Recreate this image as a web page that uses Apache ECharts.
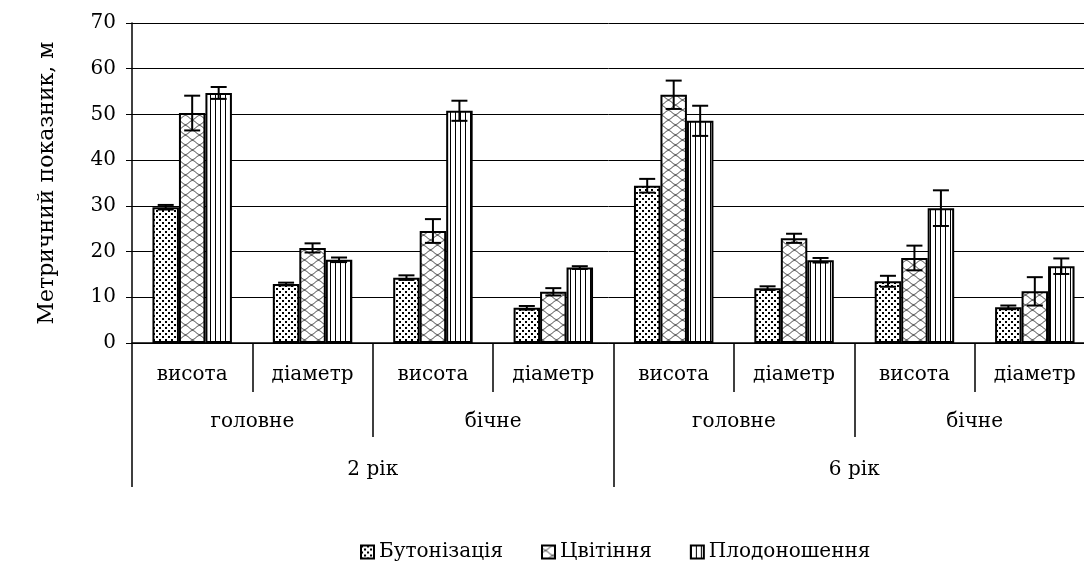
<!DOCTYPE html>
<html>
<head>
<meta charset="utf-8">
<script src="https://cdn.jsdelivr.net/npm/echarts@6/dist/echarts.min.js"></script>
<style>
    html, body { margin: 0; padding: 0; background: #fff; }
    #chart0 { width: 1084px; height: 571px; }
</style>
</head>
<body>
<div id="chart0"></div>
<script>
// categories (three levels)
var parts = ['висота', 'діаметр', 'висота', 'діаметр', 'висота', 'діаметр', 'висота', 'діаметр'];
var organs = ['головне', 'бічне', 'головне', 'бічне'];
var years = ['2 рік', '6 рік'];
var seriesNames = ['Бутонізація', 'Цвітіння', 'Плодоношення'];

// values and errors
var budding = [29.7, 12.9, 14.3, 7.7, 34.4, 12.0, 13.5, 7.8];
var buddingErr = [0.5, 0.3, 0.5, 0.4, 1.5, 0.4, 1.2, 0.4];
var flowering = [50.3, 20.8, 24.5, 11.2, 54.3, 22.9, 18.6, 11.3];
var floweringErr = [3.8, 1.0, 2.6, 0.8, 3.1, 1.0, 2.7, 3.1];
var fruiting = [54.7, 18.2, 50.8, 16.5, 48.6, 18.1, 29.5, 16.8];
var fruitingErr = [1.3, 0.5, 2.2, 0.3, 3.3, 0.5, 3.9, 1.7];

var yMin = 0, yMax = 70, yStep = 10;

var FONT = 'DejaVu Serif';
var GAP = 0.34;

// fill patterns
function makePattern(kind) {
    var c = document.createElement('canvas');
    var ctx;
    if (kind === 'dots') {
        c.width = 6; c.height = 6;
        ctx = c.getContext('2d');
        ctx.fillStyle = '#fff';
        ctx.fillRect(0, 0, 6, 6);
        ctx.fillStyle = '#000';
        ctx.fillRect(0, 0, 2, 2);
        ctx.fillRect(3, 3, 2, 2);
    } else if (kind === 'waves') {
        c.width = 14; c.height = 10;
        ctx = c.getContext('2d');
        ctx.fillStyle = '#fff';
        ctx.fillRect(0, 0, 14, 10);
        ctx.strokeStyle = '#333';
        ctx.lineWidth = 1;
        for (var r = 0; r < 2; r++) {
            ctx.beginPath();
            for (var x = 0; x <= 14; x += 0.5) {
                var y = 2.5 + r * 5 + 2 * Math.sin(2 * Math.PI * x / 14 + r * Math.PI);
                if (x === 0) ctx.moveTo(x, y); else ctx.lineTo(x, y);
            }
            ctx.stroke();
        }
    } else {
        c.width = 5; c.height = 2;
        ctx = c.getContext('2d');
        ctx.fillStyle = '#fff';
        ctx.fillRect(0, 0, 5, 2);
        ctx.fillStyle = '#000';
        ctx.fillRect(0, 0, 1, 2);
    }
    return {image: c, repeat: 'repeat'};
}

var fills = [makePattern('dots'), makePattern('waves'), makePattern('lines')];

function barSeries(idx, vals) {
    return {
        name: seriesNames[idx],
        type: 'bar',
        barGap: '0%',
        barCategoryGap: (GAP * 100) + '%',
        data: vals,
        itemStyle: {
            color: fills[idx],
            borderColor: '#000',
            borderWidth: 2
        },
        z: 2
    };
}

function errorSeries(idx, vals, errs) {
    return {
        type: 'custom',
        z: 5,
        data: vals.map(function (v, i) { return [i, v, errs[i]]; }),
        encode: {x: 0, y: 1},
        renderItem: function (params, api) {
            var x = api.value(0), v = api.value(1), e = api.value(2);
            var hi = api.coord([x, v + e]);
            var lo = api.coord([x, v - e]);
            var band = api.size([1, 0])[0];
            var barW = band * (1 - GAP) / 3;
            var cx = hi[0] + (idx - 1) * barW;
            var half = 8;
            var st = {stroke: '#000', lineWidth: 2};
            return {
                type: 'group',
                children: [
                    {type: 'line', shape: {x1: cx, y1: hi[1], x2: cx, y2: lo[1]}, style: st},
                    {type: 'line', shape: {x1: cx - half, y1: hi[1], x2: cx + half, y2: hi[1]}, style: st},
                    {type: 'line', shape: {x1: cx - half, y1: lo[1], x2: cx + half, y2: lo[1]}, style: st}
                ]
            };
        }
    };
}

function levelAxis(data, tickLen, margin, showLine) {
    return {
        type: 'category',
        position: 'bottom',
        data: data,
        axisLine: {show: showLine, lineStyle: {color: '#000', width: 1.5}},
        axisTick: {show: true, length: tickLen, lineStyle: {color: '#000', width: 1.5}},
        axisLabel: {interval: 0, margin: margin, color: '#000', fontFamily: FONT, fontSize: 20}
    };
}

var option0 = {
    animation: false,
    backgroundColor: '#fff',
    grid: {left: 132, right: -11, top: 23, bottom: 228, outerBoundsMode: 'none', containLabel: false},
    legend: {
        data: seriesNames,
        top: 537,
        left: 355,
        icon: 'rect',
        itemWidth: 13,
        itemHeight: 13,
        itemGap: 38,
        textStyle: {color: '#000', fontFamily: FONT, fontSize: 20}
    },
    xAxis: [
        levelAxis(parts, 49, 22, true),
        levelAxis(organs, 94, 69, false),
        levelAxis(years, 144, 117, false)
    ],
    yAxis: {
        type: 'value',
        min: yMin,
        max: yMax,
        interval: yStep,
        name: 'Метричний показник, м',
        nameLocation: 'middle',
        nameGap: 74,
        nameTextStyle: {color: '#000', fontFamily: FONT, fontSize: 22},
        axisLine: {show: true, lineStyle: {color: '#000', width: 1.5}},
        axisTick: {show: true, length: 6, lineStyle: {color: '#000', width: 1}},
        axisLabel: {color: '#000', fontFamily: FONT, fontSize: 20, margin: 16},
        splitLine: {lineStyle: {color: '#000', width: 1}}
    },
    series: [
        barSeries(0, budding),
        barSeries(1, flowering),
        barSeries(2, fruiting),
        errorSeries(0, budding, buddingErr),
        errorSeries(1, flowering, floweringErr),
        errorSeries(2, fruiting, fruitingErr)
    ]
};

var myChart0 = echarts.init(document.getElementById('chart0'));
myChart0.setOption(option0);
</script>
</body>
</html>
